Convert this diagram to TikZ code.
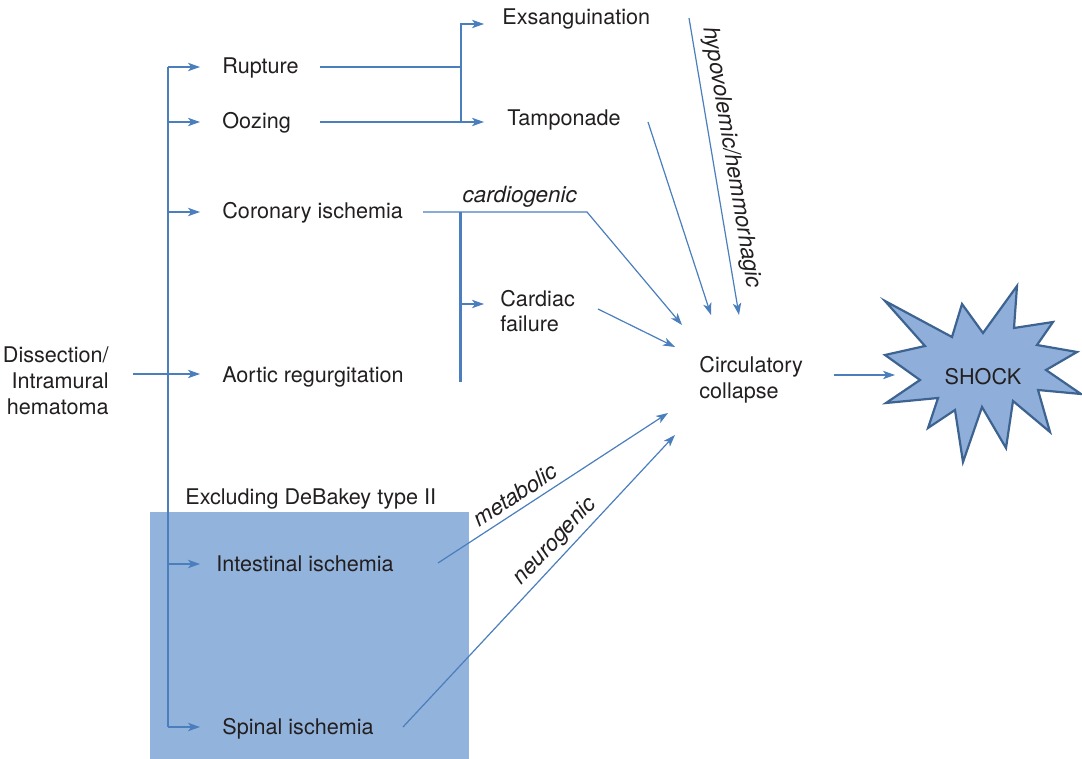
\documentclass[tikz,border=0pt]{standalone}
\usepackage{fontspec}
\setmainfont{TeX Gyre Heros}
\usepackage{tikz}
\usetikzlibrary{arrows.meta,calc}
\definecolor{lineblue}{RGB}{74,126,189}
\definecolor{boxblue}{RGB}{146,179,220}
\definecolor{starblue}{RGB}{143,175,218}
\definecolor{stardark}{RGB}{61,99,145}
\definecolor{inkgray}{RGB}{35,31,32}
\tikzset{
   item/.style={anchor=west, inner sep=0pt, text height=9pt, text depth=2pt, text=inkgray},
   twoline/.style={anchor=west, inner sep=0pt, align=left, text=inkgray},
   flow/.style={draw=lineblue, line width=0.6pt},
   arr/.style={flow, -{Stealth[length=6pt,width=4.2pt,inset=1.6pt]}},
   cause/.style={font=\fontsize{11.2}{13.4}\selectfont\itshape, inner sep=1pt, text=inkgray},
   burst/.style={draw=stardark, line width=1.1pt, fill=starblue, line join=miter},
}

\begin{document}
\begin{tikzpicture}[x=0.5pt, y=-0.5pt, font=\fontsize{10.8}{12.9}\selectfont]
\useasboundingbox (0,0) rectangle (1082,759);

% shaded region (DeBakey type II excluded)
\fill[boxblue] (150,512) rectangle (469,759);

\node[inner sep=0pt, align=right, anchor=east, text=inkgray] (dis) at (109,381) {Dissection/\\Intramural\\hematoma};
\node[item] (rup) at (222,67) {Rupture};
\node[item] (ooz) at (222,122) {Oozing};
\node[item] (cor) at (222,212) {Coronary ischemia};
\node[item] (aor) at (222,375) {Aortic regurgitation};
\node[item] (exc) at (185,497) {Excluding DeBakey type II};
\node[item] (int) at (216,564) {Intestinal ischemia};
\node[item] (spi) at (222,727) {Spinal ischemia};
\node[item] (exs) at (502,18) {Exsanguination};
\node[item] (tam) at (507,119) {Tamponade};
\node[twoline] (car) at (500,311) {Cardiac\\failure};
\node[twoline] (col) at (699,380) {Circulatory\\collapse};

% the burst
\draw[burst] (885,301) -- (952,337) -- (962,304) -- (983,333) -- (1017,286) -- (1014,328)
   -- (1053,322) -- (1037,345) -- (1077,352) -- (1046,370) -- (1081,394) -- (1038,390)
   -- (1050,432) -- (1013,401) -- (1006,448) -- (982,407) -- (963,462) -- (955,410)
   -- (928,428) -- (938,398) -- (886,403) -- (920,380) -- (885,355) -- (925,346) -- cycle;
\node[text=inkgray] (shock) at (983,377) {SHOCK};

\coordinate (trunk) at (168,375);
\coordinate (tips) at (200,0);
\coordinate (din) at (133,374);
\coordinate (fork) at (461,24);
\coordinate (tipx) at (484,0);
\coordinate (bend) at (587,212);
\coordinate (spine) at (460,382);
\coordinate (cbr) at (460,304);
\coordinate (shout) at (834,375);
\coordinate (shin) at (895,375);

% left trunk
\draw[flow] (trunk |- rup.west) -- (trunk |- spi.west);
\foreach \n in {rup,ooz,cor,int,spi}
  \draw[arr] (trunk |- \n.west) -- (tips |- \n.west);
\draw[arr] (din) -- (tips |- din);

% bleeding
\draw[flow] (rup.west) ++(98,0) -- (fork |- rup);
\draw[arr] (ooz.west) ++(98,0) -- (tipx |- ooz);
\draw[arr] (fork |- ooz) -- (fork) -- (tipx |- fork);

% cardiac
\draw[arr] (cor.west) ++(201,0) -- node[cause, above=1pt, pos=0.59] {cardiogenic} (bend) -- (682,325);
\draw[flow, line width=1.5pt] (spine |- cor) -- (spine);
\draw[arr] (cbr) -- (tipx |- cbr);

% into circulatory collapse
\draw[arr] (689,18) -- node[cause, sloped, above=2.5pt, pos=0.48] {hypovolemic/hemmorhagic} (739,315);
\draw[arr] (648,122) -- (711,315);
\draw[arr] (598,309) -- (675,347);
\draw[arr] (438,563) -- node[cause, sloped, above=2pt, pos=0.37] {metabolic} (668,413);
\draw[arr] (403,727) -- node[cause, sloped, above=1pt, pos=0.6] {neurogenic} (675,435);

\draw[arr] (shout) -- (shin);
\end{tikzpicture}
\end{document}
